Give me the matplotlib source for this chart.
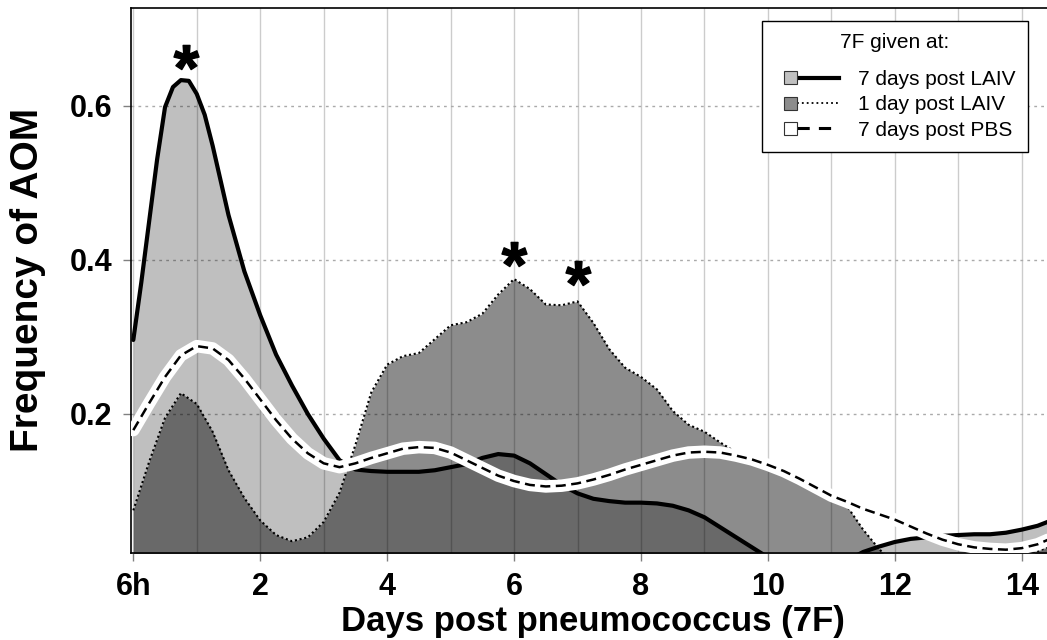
import numpy as np
import matplotlib
matplotlib.use("Agg")
import matplotlib.pyplot as plt
from matplotlib.legend_handler import HandlerBase
from matplotlib.patches import Rectangle, Patch
from matplotlib.lines import Line2D
from matplotlib.textpath import TextPath
from matplotlib.path import Path
from matplotlib.font_manager import FontProperties

plt.rcParams['font.family'] = ['Liberation Sans', 'DejaVu Sans']

# days after pneumococcus challenge, read every quarter day
days = np.arange(0, 14.75, 0.25)

# 7F given 7 days post LAIV (solid); read more finely around the early peak
laiv7_days = [0, 0.125, 0.25, 0.375, 0.5, 0.625, 0.75, 0.875, 1.0, 1.125, 1.25,
              1.375] + list(days[6:])
laiv7 = [0.296, 0.370, 0.450, 0.530, 0.598, 0.624, 0.633, 0.632, 0.615, 0.588, 0.548,
         0.503, 0.458, 0.385, 0.328, 0.277,
         0.237, 0.200, 0.168, 0.140, 0.128, 0.126, 0.125, 0.125, 0.125, 0.127,
         0.131, 0.135, 0.143, 0.148, 0.146, 0.136, 0.122, 0.108, 0.097, 0.090,
         0.087, 0.085, 0.085, 0.084, 0.081, 0.075, 0.066, 0.053, 0.040, 0.027,
         0.014, 0.005, 0.000, 0.000, 0.003, 0.010, 0.021, 0.028, 0.034, 0.038,
         0.040, 0.042, 0.043, 0.044, 0.044, 0.046, 0.050, 0.055, 0.063]

# 7F given 1 day post LAIV (dotted)
laiv1 = [0.075, 0.138, 0.195, 0.227, 0.213, 0.177, 0.127, 0.091, 0.062, 0.043,
         0.035, 0.040, 0.060, 0.098, 0.160, 0.228, 0.264, 0.275, 0.279, 0.297,
         0.315, 0.319, 0.330, 0.355, 0.375, 0.362, 0.342, 0.341, 0.346, 0.318,
         0.284, 0.260, 0.248, 0.232, 0.204, 0.186, 0.177, 0.163, 0.150, 0.142,
         0.135, 0.127, 0.117, 0.106, 0.096, 0.080, 0.050, 0.025, 0.005, 0.000,
         0.000, 0.000, 0.000, 0.000, 0.000, 0.000, 0.010, 0.022, 0.030]

# 7F given 7 days post PBS (dashed)
pbs7 = [0.179, 0.214, 0.248, 0.276, 0.288, 0.285, 0.270, 0.246, 0.219, 0.192,
        0.168, 0.149, 0.136, 0.131, 0.136, 0.143, 0.149, 0.155, 0.157, 0.156,
        0.150, 0.140, 0.130, 0.120, 0.113, 0.108, 0.106, 0.107, 0.110, 0.115,
        0.121, 0.128, 0.134, 0.140, 0.146, 0.150, 0.151, 0.150, 0.146, 0.141,
        0.134, 0.126, 0.116, 0.105, 0.094, 0.086, 0.077, 0.070, 0.063, 0.054,
        0.045, 0.037, 0.031, 0.027, 0.025, 0.024, 0.026, 0.031, 0.040]

# significance marks
star_x = [0.83, 6.0, 7.0]
star_y = [0.663, 0.408, 0.383]

xticks = [0, 2, 4, 6, 8, 10, 12, 14]
xticklabels = ['6h', '2', '4', '6', '8', '10', '12', '14']
yticks = [0.2, 0.4, 0.6]
labels = ['7 days post LAIV', '1 day post LAIV', '7 days post PBS']


class BoxLineHandler(HandlerBase):
    def create_artists(self, legend, orig_handle, xdescent, ydescent,
                       width, height, fontsize, trans):
        patch, line = orig_handle
        s = 0.62 * fontsize
        x0 = 0.45 * fontsize - xdescent
        yc = -ydescent + height / 2
        box = Rectangle((x0, yc - s / 2), s, s, facecolor=patch.get_facecolor(),
                        edgecolor='#333333', lw=0.8, transform=trans)
        ln = Line2D([x0 + s, width - xdescent], [yc, yc])
        ln.update_from(line)
        ln.set_transform(trans)
        return [ln, box]


fig = plt.figure(figsize=(10.47, 6.4), dpi=100)
ax = fig.add_axes([130.7 / 1047, 1 - 553 / 640, (1050 - 130.7) / 1047, (553 - 8) / 640])

ax.fill_between(laiv7_days, 0, laiv7, color='black', alpha=0.25, lw=0, zorder=2)
ax.fill_between(days, 0, laiv1, color='black', alpha=0.45, lw=0, zorder=2)
ax.plot(days, laiv1, color='black', lw=1.5, ls=(0, (1, 1.3)), zorder=3)
ax.plot(laiv7_days, laiv7, color='black', lw=3, solid_capstyle='round',
        solid_joinstyle='round', zorder=4)
ax.plot(days, pbs7, color='white', lw=9, solid_capstyle='round',
        solid_joinstyle='round', zorder=5)
ax.plot(days, pbs7, color='black', lw=1.8, ls=(0, (4, 2.2)), zorder=6)

# asterisk glyph centred as a marker
tp = TextPath((0, 0), '*', size=1, prop=FontProperties(family='Liberation Sans', weight='bold'))
ext = tp.get_extents()
v = tp.vertices - [(ext.x0 + ext.x1) / 2, (ext.y0 + ext.y1) / 2]
v[tp.codes == Path.CLOSEPOLY] = 0
star = Path(v, tp.codes)
ax.plot(star_x, star_y, ls='none', marker=star, markersize=18, color='black', zorder=7)

ax.set_xlim(-0.041, 14.445)
ax.set_ylim(0.0197, 0.7265)
ax.set_xticks(xticks)
ax.set_xticklabels(xticklabels)
ax.set_xticks(range(1, 15), minor=True)
ax.set_yticks(yticks)
ax.set_yticklabels(['0.2', '0.4', '0.6'])
ax.grid(which='both', axis='x', color='#cccccc', lw=1.0, zorder=1)
ax.grid(which='major', axis='y', color='#aaaaaa', lw=1.0, ls=(0, (2, 3)), zorder=1)
ax.set_axisbelow(True)
ax.tick_params(axis='both', which='major', color='#808080', length=6, width=1,
               labelsize=22)
ax.tick_params(axis='x', which='major', pad=8)
ax.tick_params(axis='y', which='major', pad=7)
ax.tick_params(which='minor', length=0)
for t in ax.get_xticklabels() + ax.get_yticklabels():
    t.set_fontweight('bold')
for sp in ax.spines.values():
    sp.set_linewidth(1.2)

fig.text(593 / 1047, 1 - 631 / 640, 'Days post pneumococcus (7F)', ha='center',
         va='baseline', fontsize=25, fontweight='bold')
fig.text(28 / 1047, 1 - 280 / 640, 'Frequency of AOM', ha='center', va='center',
         rotation=90, fontsize=28, fontweight='bold')

h1 = (Patch(facecolor='#c0c0c0'), Line2D([], [], color='black', lw=3))
h2 = (Patch(facecolor='#8c8c8c'), Line2D([], [], color='black', lw=1.3, ls=(0, (1, 1.7))))
h3 = (Patch(facecolor='white'), Line2D([], [], color='black', lw=2.2, ls=(0, (4, 3))))
leg = ax.legend([h1, h2, h3], labels, handler_map={tuple: BoxLineHandler()},
                title='7F given at:', fontsize=15, title_fontsize=15,
                loc='upper right', bbox_to_anchor=(1028 / 1047, 1 - 21 / 640),
                bbox_transform=fig.transFigure, borderaxespad=0, borderpad=0.6,
                handlelength=3.1, handletextpad=0.9, labelspacing=0.3,
                fancybox=False, framealpha=1, edgecolor='black')
leg._legend_box.sep = 0.85 * 15
leg.get_frame().set_linewidth(1.0)
leg.set_zorder(10)

fig.savefig('out.png', dpi=100)
